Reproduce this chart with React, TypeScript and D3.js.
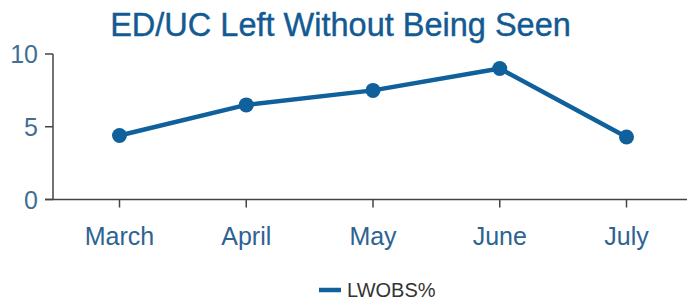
import React from "react";
import * as d3 from "d3";

const months = ["March", "April", "May", "June", "July"];
const lwobs = [4.4, 6.5, 7.5, 9.0, 4.3];
const yTicks = [0, 5, 10];
const title = "ED/UC Left Without Being Seen";
const seriesName = "LWOBS%";

const W = 687;
const H = 306;
const BLUE = "#10609c";
const FONT = "Liberation Sans, Arial, sans-serif";

export default function App() {
  const x = d3.scalePoint<string>().domain(months).range([119.5, 626.5]);
  const y = d3.scaleLinear().domain([0, 10]).range([199.5, 54]);
  const axisLeft = 53;
  const line = d3
    .line<number>()
    .x((_, i) => x(months[i]) as number)
    .y((d) => y(d));

  return (
    <svg
      width={W}
      height={H}
      style={{ position: "absolute", left: 0, top: 0, background: "#fff" }}
      fontFamily={FONT}
    >
      <text x={340.5} y={36} textAnchor="middle" fontSize={32.5} fill="#135a93" stroke="#135a93" strokeWidth={0.4}>
        {title}
      </text>
      {/* y axis */}
      <line x1={axisLeft} x2={axisLeft} y1={y(10)} y2={y(0)} stroke="#444" strokeWidth={1.5} />
      {yTicks.map((t) => (
        <g key={t}>
          <line x1={45} x2={axisLeft} y1={y(t)} y2={y(t)} stroke="#444" strokeWidth={1.5} />
          <text x={38} y={y(t)} dy="0.36em" textAnchor="end" fontSize={25} fill="#3f6f95">
            {t}
          </text>
        </g>
      ))}
      {/* x axis */}
      <line x1={axisLeft - 8} x2={W} y1={y(0)} y2={y(0)} stroke="#444" strokeWidth={1.5} />
      {months.map((m) => (
        <g key={m}>
          <line x1={x(m)} x2={x(m)} y1={y(0)} y2={y(0) + 8} stroke="#444" strokeWidth={1.5} />
          <text x={x(m)} y={245} textAnchor="middle" fontSize={25} fill="#2d6391">
            {m}
          </text>
        </g>
      ))}
      {/* series */}
      <path d={line(lwobs) || ""} fill="none" stroke={BLUE} strokeWidth={4.5} strokeLinejoin="round" />
      {lwobs.map((v, i) => (
        <circle key={i} cx={x(months[i]) as number} cy={y(v)} r={7.5} fill={BLUE} />
      ))}
      {/* legend */}
      <line x1={319} x2={341} y1={290} y2={290} stroke={BLUE} strokeWidth={4.5} />
      <text x={347} y={297} fontSize={20} fill="#333">
        {seriesName}
      </text>
    </svg>
  );
}
